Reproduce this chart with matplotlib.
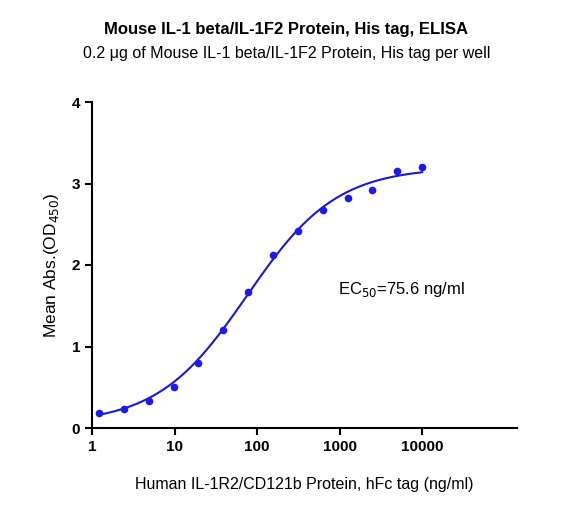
import numpy as np
import matplotlib
matplotlib.use('Agg')
import matplotlib.pyplot as plt

plt.rcParams['font.family'] = ['Liberation Sans', 'DejaVu Sans']

conc = [1.22, 2.44, 4.88, 9.77, 19.5, 39.1, 78.1, 156, 312, 625, 1250, 2500, 5000, 10000]
absorb = [0.18, 0.23, 0.33, 0.50, 0.80, 1.20, 1.67, 2.12, 2.42, 2.68, 2.82, 2.92, 3.15, 3.20]
# 4PL fit parameters
bottom, top, ec50, hill = 0.05, 3.2, 75.6, 0.8

fig = plt.figure(figsize=(5.73, 5.07), dpi=100)
ax = fig.add_axes([92/573, 79/507, 425/573, 326/507])

xs = np.logspace(np.log10(1.2), 4, 300)
ys = bottom + (top - bottom) / (1 + (ec50 / xs) ** hill)
ax.plot(xs, ys, color='#1a1acc', lw=1.5)
ax.plot(conc, absorb, 'o', color='#1a1aee', ms=4.5)

ax.set_xscale('log')
ax.set_xlim(1, 141000)
ax.set_ylim(0, 4)
ax.set_xticks([1, 10, 100, 1000, 10000])
ax.set_xticklabels(['1', '10', '100', '1000', '10000'])
ax.set_yticks([0, 1, 2, 3, 4])
ax.minorticks_off()
for s in ['top', 'right']:
    ax.spines[s].set_visible(False)
for s in ['left', 'bottom']:
    ax.spines[s].set_linewidth(1.5)
ax.tick_params(width=1.5, length=5, labelsize=11)
for lab in ax.get_xticklabels() + ax.get_yticklabels():
    lab.set_fontweight('bold')

ax.set_xlabel('Human IL-1R2/CD121b Protein, hFc tag (ng/ml)', fontsize=11.5, labelpad=17)
ax.set_ylabel('Mean Abs.(OD$_{450}$)', fontsize=12.5, labelpad=8)
ax.text(0.58, 0.41, 'EC$_{50}$=75.6 ng/ml', transform=ax.transAxes, fontsize=12)

fig.text(0.5, 0.933, 'Mouse IL-1 beta/IL-1F2 Protein, His tag, ELISA', ha='center',
         fontsize=12, fontweight='bold')
fig.text(0.5, 0.885, '0.2 \u03bcg of Mouse IL-1 beta/IL-1F2 Protein, His tag per well', ha='center',
         fontsize=11.5)

plt.savefig('out.png', dpi=100)
